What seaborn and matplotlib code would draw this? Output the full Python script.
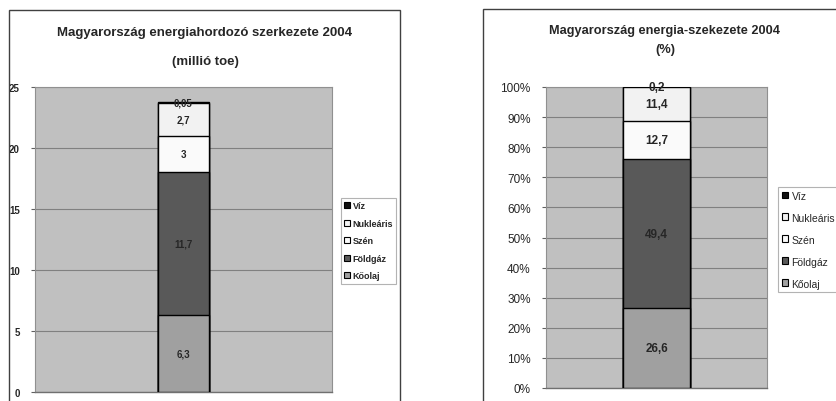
import matplotlib
matplotlib.use("Agg")
import matplotlib.pyplot as plt
from matplotlib.patches import Rectangle, Patch
import seaborn as sns
import pandas as pd

# adatok (alulról felfelé)
hordozok = ["Kőolaj", "Földgáz", "Szén", "Nukleáris", "Víz"]
toe_2004 = [6.3, 11.7, 3, 2.7, 0.05]
toe_cimkek = ["6,3", "11,7", "3", "2,7", "0,05"]
szazalek_2004 = [26.6, 49.4, 12.7, 11.4, 0.2]
szazalek_cimkek = ["26,6", "49,4", "12,7", "11,4", "0,2"]
szinek = ["#a0a0a0", "#595959", "#fafafa", "#f2f2f2", "#111111"]

bal_yticks = [0, 5, 10, 15, 20, 25]
jobb_yticks = list(range(0, 101, 10))
jobb_yticklabels = [f"{v}%" for v in jobb_yticks]

sns.set_theme(style="white")
plt.rcParams["font.family"] = ["Liberation Sans", "DejaVu Sans"]

W, H = 837, 402
fig = plt.figure(figsize=(W / 100, H / 100), dpi=100)


def px_ax(x0, y0, x1, y1):
    return fig.add_axes([x0 / W, 1 - y1 / H, (x1 - x0) / W, (y1 - y0) / H])


def keret(x0, y0, x1, y1):
    fig.patches.append(Rectangle((x0 / W, 1 - y1 / H), (x1 - x0) / W, (y1 - y0) / H,
                                 transform=fig.transFigure, fill=False,
                                 edgecolor="#404040", lw=1.0, clip_on=False))


def oszlop(ax, ertekek, cimkek, szelesseg, ymax, felkover):
    df = pd.DataFrame({"hordozo": hordozok, "ertek": ertekek})
    df["kum"] = df["ertek"].cumsum()
    # kumulált oszlopok a legnagyobbtól lefelé
    for i in range(len(df) - 1, -1, -1):
        sns.barplot(x=[""], y=[min(df["kum"][i], ymax)], ax=ax, color=szinek[i],
                    width=szelesseg, edgecolor="black", linewidth=1.0,
                    saturation=1, zorder=3)
    alsok = df["kum"] - df["ertek"]
    for i in range(len(df)):
        if i == len(df) - 1:
            yy = min(df["kum"][i], ymax)
        else:
            yy = alsok[i] + df["ertek"][i] / 2
        ax.text(0, yy, cimkek[i], ha="center", va="center",
                fontsize=7 if felkover else 8.5, fontweight="bold", zorder=5)
    ax.set_facecolor("#c0c0c0")
    ax.set_xlim(-0.5, 0.5)
    ax.set_ylim(0, ymax)
    ax.set_xticks([])
    ax.set_xlabel("")
    ax.set_ylabel("")
    ax.yaxis.grid(True, color="#808080", lw=0.8, zorder=0)
    ax.set_axisbelow(True)
    for s in ["top", "right", "left"]:
        ax.spines[s].set_color("#909090")
        ax.spines[s].set_linewidth(0.8)
    ax.spines["bottom"].set_color("#707070")
    ax.spines["bottom"].set_linewidth(1.0)
    ax.tick_params(axis="y", left=True, length=3, width=0.8, color="#606060", pad=8)


def jelmagyarazat(x0, y0, felkover, meret, kozok):
    handles = [Patch(facecolor=szinek[i], edgecolor="black", lw=0.8)
               for i in range(len(hordozok) - 1, -1, -1)]
    labels = hordozok[::-1]
    leg = fig.legend(handles, labels, loc="upper left",
                     bbox_to_anchor=(x0 / W, 1 - y0 / H),
                     frameon=True, fancybox=False, handlelength=0.65, handleheight=0.65,
                     handletextpad=0.3, labelspacing=kozok,
                     borderpad=0.35, borderaxespad=0,
                     prop={"size": meret, "weight": "bold" if felkover else "normal"})
    leg.get_frame().set_edgecolor("#a0a0a0")
    leg.get_frame().set_linewidth(0.8)


# bal panel
keret(9, 11, 400, 430)
ax1 = px_ax(35, 88, 332, 393)
oszlop(ax1, toe_2004, toe_cimkek, 0.175, 25, True)
ax1.set_yticks(bal_yticks)
ax1.set_yticklabels([str(v) for v in bal_yticks], fontsize=7, fontweight="bold")
fig.text(205 / W, 1 - 33 / H, "Magyarország energiahordozó szerkezete 2004",
         ha="center", va="center", fontsize=9.5, fontweight="bold")
fig.text(205 / W, 1 - 62 / H, "(millió toe)", ha="center", va="center",
         fontsize=9.5, fontweight="bold")
jelmagyarazat(341, 199, True, 6.5, 0.95)

# jobb panel
keret(483, 10, 860, 430)
ax2 = px_ax(546, 88, 767, 389)
oszlop(ax2, szazalek_2004, szazalek_cimkek, 0.30, 100, False)
ax2.set_yticks(jobb_yticks)
ax2.set_yticklabels(jobb_yticklabels, fontsize=8.5)
fig.text(665 / W, 1 - 31 / H, "Magyarország energia-szekezete 2004",
         ha="center", va="center", fontsize=9.2, fontweight="bold")
fig.text(665 / W, 1 - 50 / H, "(%)", ha="center", va="center",
         fontsize=9.2, fontweight="bold")
jelmagyarazat(778, 188, False, 7.5, 1.15)

fig.savefig("out.png", dpi=100, facecolor="white")
